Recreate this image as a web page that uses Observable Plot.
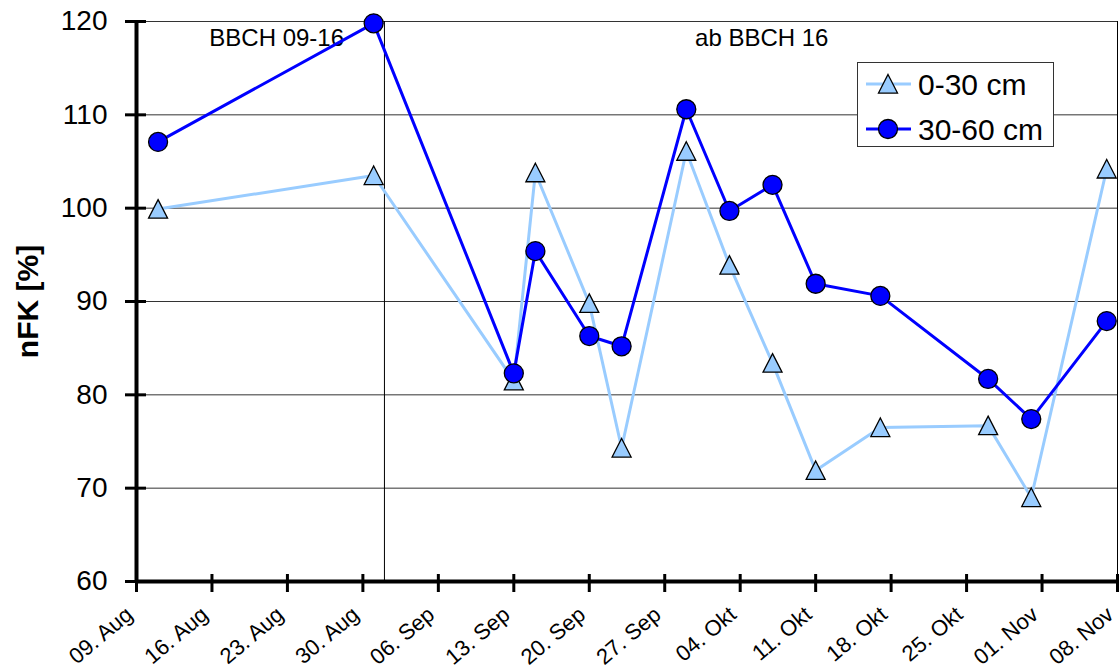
<!DOCTYPE html>
<html>
<head>
<meta charset="utf-8">
<script src="https://cdn.jsdelivr.net/npm/d3@7"></script>
<script src="https://cdn.jsdelivr.net/npm/@observablehq/plot@0.6"></script>
<style>
  body { margin: 0; background: #fff; font-family: "Liberation Sans", Arial, sans-serif; }
  #wrap { position: relative; width: 1119px; height: 672px; }
  #legend {
    position: absolute; left: 857px; top: 62px; width: 197px; height: 85px;
    box-sizing: border-box; border: 1px solid #333; background: #fff;
  }
  #legend svg { display: block; }
</style>
</head>
<body>
<div id="wrap">
  <div id="chart"></div>
  <div id="legend"></div>
</div>
<script>
// Soil moisture (usable field capacity, nFK) measured in two soil layers
const day = (m, d) => new Date(Date.UTC(2005, m - 1, d));

const sampleDates = [
  day(8, 11), day(8, 31), day(9, 13), day(9, 15), day(9, 20), day(9, 23), day(9, 29),
  day(10, 3), day(10, 7), day(10, 11), day(10, 17), day(10, 27), day(10, 31), day(11, 7)
];
const layer0to30 = [99.9, 103.5, 81.5, 103.8, 89.8, 74.3, 106.1, 93.9, 83.4, 71.9, 76.5, 76.7, 69.0, 104.2];
const layer30to60 = [107.1, 119.8, 82.3, 95.4, 86.3, 85.2, 110.6, 99.7, 102.5, 91.9, 90.6, 81.7, 77.4, 87.9];

const seriesNames = ["0-30 cm", "30-60 cm"];
const seriesColors = ["#99ccff", "#0000ff"];

// Weekly x ticks with German date labels
const xTickDates = [
  day(8, 9), day(8, 16), day(8, 23), day(8, 30), day(9, 6), day(9, 13), day(9, 20),
  day(9, 27), day(10, 4), day(10, 11), day(10, 18), day(10, 25), day(11, 1), day(11, 8)
];
const xTickLabels = [
  "09. Aug", "16. Aug", "23. Aug", "30. Aug", "06. Sep", "13. Sep", "20. Sep",
  "27. Sep", "04. Okt", "11. Okt", "18. Okt", "25. Okt", "01. Nov", "08. Nov"
];
const yTicks = [60, 70, 80, 90, 100, 110, 120];

// Growth stage phases
const phaseBoundary = [day(9, 1)];
const phaseLabelDates = [day(8, 22), day(10, 6)];
const phaseLabels = ["BBCH 09-16", "ab BBCH 16"];

const rows = (vals) => sampleDates.map((date, i) => ({date, value: vals[i]}));
const data0 = rows(layer0to30);
const data1 = rows(layer30to60);

// Triangle centred on its bounding box
const triangle = {
  draw(context, size) {
    const r = Math.sqrt(size / Math.PI);
    context.moveTo(0, -r);
    context.lineTo(r, r * 0.95);
    context.lineTo(-r, r * 0.95);
    context.closePath();
  }
};

const chart = Plot.plot({
  width: 1119,
  height: 672,
  marginLeft: 136,
  marginRight: 2,
  marginTop: 21,
  marginBottom: 91,
  style: {fontFamily: "'Liberation Sans', Arial, sans-serif", color: "#000", background: "#fff"},
  x: {type: "utc", domain: [xTickDates[0], xTickDates[xTickDates.length - 1]]},
  y: {domain: [yTicks[0], yTicks[yTicks.length - 1]]},
  marks: [
    Plot.ruleY(yTicks.slice(1), {stroke: "#333", strokeWidth: 1}),
    Plot.ruleX(xTickDates.slice(-1), {stroke: "#000", strokeWidth: 1}),
    Plot.ruleX(phaseBoundary, {stroke: "#000", strokeWidth: 1}),
    Plot.text(phaseLabels, {
      x: (d, i) => phaseLabelDates[i], y: yTicks[yTicks.length - 1], text: d => d,
      dy: 17, fontSize: 24, lineAnchor: "middle"
    }),
    // 0-30 cm
    Plot.line(data0, {x: "date", y: "value", stroke: seriesColors[0], strokeWidth: 3}),
    Plot.dot(data0, {x: "date", y: "value", symbol: triangle, r: 9.5, fill: seriesColors[0], stroke: "#000", strokeWidth: 1.3}),
    // 30-60 cm
    Plot.line(data1, {x: "date", y: "value", stroke: seriesColors[1], strokeWidth: 3}),
    Plot.dot(data1, {x: "date", y: "value", r: 9.5, fill: seriesColors[1], stroke: "#000", strokeWidth: 1.3}),
    // axes
    Plot.ruleX(xTickDates.slice(0, 1), {stroke: "#000", strokeWidth: 4}),
    Plot.ruleY(yTicks.slice(0, 1), {stroke: "#000", strokeWidth: 4}),
    Plot.axisY(yTicks, {tickSize: 11, tickPadding: 18, fontSize: 28, strokeWidth: 3, label: null}),
    Plot.axisY(yTicks, {tickSize: -10, tickFormat: () => "", strokeWidth: 3, label: null}),
    Plot.axisX(xTickDates, {tickSize: 11, tickFormat: () => "", strokeWidth: 3, label: null}),
    Plot.axisX(xTickDates, {tickSize: -7, tickFormat: () => "", strokeWidth: 3, label: null}),
    Plot.text(xTickDates, {
      x: d => d, text: (d, i) => xTickLabels[i], frameAnchor: "bottom",
      rotate: -40, textAnchor: "end", lineAnchor: "middle", dx: -7, dy: 30, fontSize: 22
    }),
    Plot.text(["nFK [%]"], {
      frameAnchor: "left", rotate: -90, dx: -108, fontSize: 30, fontWeight: "bold",
      textAnchor: "middle", lineAnchor: "middle"
    })
  ]
});
document.getElementById("chart").appendChild(chart);

// Legend: line sample with marker, then series name
const lg = d3.select("#legend").append("svg").attr("width", 195).attr("height", 83);
seriesNames.forEach((name, i) => {
  const y = 21 + i * 45;
  const g = lg.append("g").attr("transform", `translate(0,${y})`);
  g.append("line").attr("x1", 8).attr("x2", 53).attr("stroke", seriesColors[i]).attr("stroke-width", 3);
  if (i === 0) {
    const r = 9.5;
    g.append("path")
      .attr("d", `M30,${-r}L${30 + r},${r * 0.95}L${30 - r},${r * 0.95}Z`)
      .attr("fill", seriesColors[i]).attr("stroke", "#000").attr("stroke-width", 1.3);
  } else {
    g.append("circle").attr("cx", 30).attr("r", 9.5)
      .attr("fill", seriesColors[i]).attr("stroke", "#000").attr("stroke-width", 1.3);
  }
  g.append("text").attr("x", 60).attr("dy", "0.35em")
    .attr("font-size", 30).attr("font-family", "'Liberation Sans', Arial, sans-serif")
    .text(name);
});
</script>
</body>
</html>
